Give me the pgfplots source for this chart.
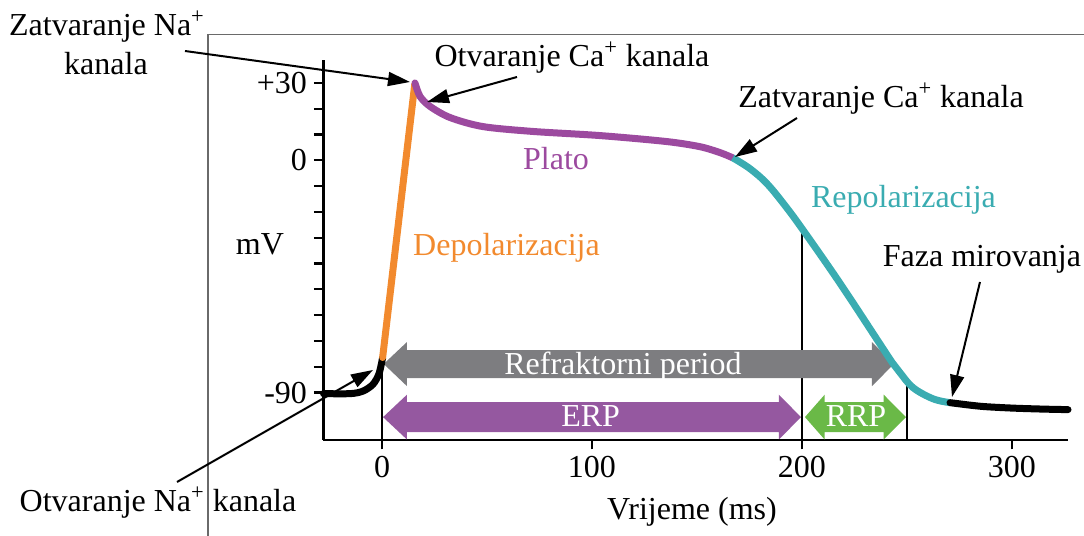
\documentclass[border=0pt]{standalone}
\usepackage{pgfplots}
\pgfplotsset{compat=1.18}
\usepackage{fontspec}
\setmainfont{Liberation Serif}
\usetikzlibrary{arrows.meta}
\definecolor{corange}{HTML}{F28A2E}
\definecolor{cpurple}{HTML}{9C4A9F}
\definecolor{cteal}{HTML}{3AACB1}
\definecolor{agrey}{HTML}{7D7D80}
\definecolor{apurple}{HTML}{9558A0}
\definecolor{agreen}{HTML}{6AB947}
\definecolor{frame}{HTML}{6A6A6A}
\newcommand\lf{\fontsize{16}{19}\selectfont}
\begin{document}
\begin{tikzpicture}
\path[use as bounding box] (-161.75pt,-48pt) rectangle (380.25pt,220pt);
\begin{axis}[
  at={(0,0)}, anchor=south west,
  scale only axis, width=372.25pt, height=190pt,
  xmin=-27.86, xmax=326.67, ymin=-108.37, ymax=38.9,
  axis x line=bottom, axis y line=left,
  axis line style={-, line width=1.1pt, black},
  xtick={0,100,200,300}, xticklabels={0,100,200,300},
  ytick={-90,-80,...,30}, yticklabels={-90,,,,,,,,,0,,,+30},
  tick align=outside, major tick length=4.75pt,
  tick style={black, line width=1.1pt},
  ticklabel style={font=\lf},
  clip=false,
]
% vertical marker lines
\addplot[black, line width=1pt] coordinates {(0,-108.37) (0,-76.4)};
\addplot[black, line width=1pt] coordinates {(200,-108.37) (200,-27.7)};
\addplot[black, line width=1pt] coordinates {(250,-108.37) (250,-86)};
% refractory arrows
\addplot[fill=agrey, draw=none] coordinates {(0.8,-78.9) (11.9,-70.4) (11.9,-73.5) (233.3,-73.5) (233.3,-70.4) (243.8,-78.9) (233.3,-87.5) (233.3,-84.4) (11.9,-84.4) (11.9,-87.5)} -- cycle;
\addplot[fill=apurple, draw=none] coordinates {(0.5,-99.5) (11.9,-90.8) (11.9,-93.7) (189,-93.7) (189,-90.8) (199.5,-99.5) (189,-108.2) (189,-105.3) (11.9,-105.3) (11.9,-108.2)} -- cycle;
\addplot[fill=agreen, draw=none] coordinates {(201.4,-99.5) (210.8,-90.8) (210.8,-93.7) (238.9,-93.7) (238.9,-90.8) (249.5,-99.5) (238.9,-108.2) (238.9,-105.3) (210.8,-105.3) (210.8,-108.2)} -- cycle;
% action potential
\addplot[black, line width=3.5pt, smooth, tension=0.5, line cap=round] coordinates {(-27.86,-90.4) (-15,-90.4) (-9,-89.4) (-4.3,-86.8) (-1.4,-82.6) (0.3,-76.4)};
\addplot[corange, line width=3.5pt, line cap=round] coordinates {(0.3,-76.4) (15.6,29.5)};
\addplot[cpurple, line width=3.5pt, smooth, tension=0.5, line cap=round] coordinates {(15.7,30) (18.1,24.8) (22.9,20.9) (32.4,16.6) (48,13.1) (72,11.2) (104,9.6) (135.5,7.3) (151.4,5.3) (161,3.0) (167,1.0)};
\addplot[cteal, line width=3.5pt, smooth, tension=0.6] coordinates {(167,1.0) (175.2,-3.2) (183.3,-9.0) (191.9,-17.5) (200.5,-27) (218,-47.5) (237,-71) (243,-78.4) (246.7,-82.3) (252.9,-88.1) (262.4,-92.4) (270.5,-93.9)};
\addplot[black, line width=3.5pt, smooth, tension=0.5, line cap=round] coordinates {(270.5,-93.9) (285,-95.3) (300,-96) (315,-96.4) (326.67,-96.6)};
\end{axis}
\begin{scope}[x=0.5pt, y=-0.5pt, shift={(-161.75pt,220pt)}]
\draw[frame, line width=0.8pt] (208,536) -- (208,34.5) -- (1084,34.5);
\tikzset{lab/.style={anchor=base, inner sep=0pt, font=\lf}, ann/.style={line width=1pt, -{Triangle[length=11pt,width=7pt]}}}
\node[lab] at (107,36) {Zatvaranje Na\textsuperscript{+}};
\node[lab] at (106,75) {kanala};
\node[lab] at (572,67) {Otvaranje Ca\textsuperscript{+} kanala};
\node[lab] at (881,108) {Zatvaranje Ca\textsuperscript{+} kanala};
\node[lab, text=cteal] at (903.5,208) {Repolarizacija};
\node[lab] at (982,267) {Faza mirovanja};
\node[lab, text=cpurple] at (556,170) {Plato};
\node[lab, text=corange] at (506.5,256) {Depolarizacija};
\node[lab] at (260,255) {mV};
\node[lab] at (692,520) {Vrijeme (ms)};
\node[lab] at (158,512) {Otvaranje Na\textsuperscript{+} kanala};
\node[lab, text=white] at (623,374.5) {Refraktorni period};
\node[lab, text=white] at (590.7,427) {ERP};
\node[lab, text=white] at (856,427) {RRP};
\draw[ann] (185,51) -- (410,82);
\draw[ann] (517,77) -- (427,102);
\draw[ann] (797,118) -- (735,157);
\draw[ann] (980,282) -- (952,397);
\draw[ann] (177,482) -- (373,370);
\end{scope}
\end{tikzpicture}
\end{document}
